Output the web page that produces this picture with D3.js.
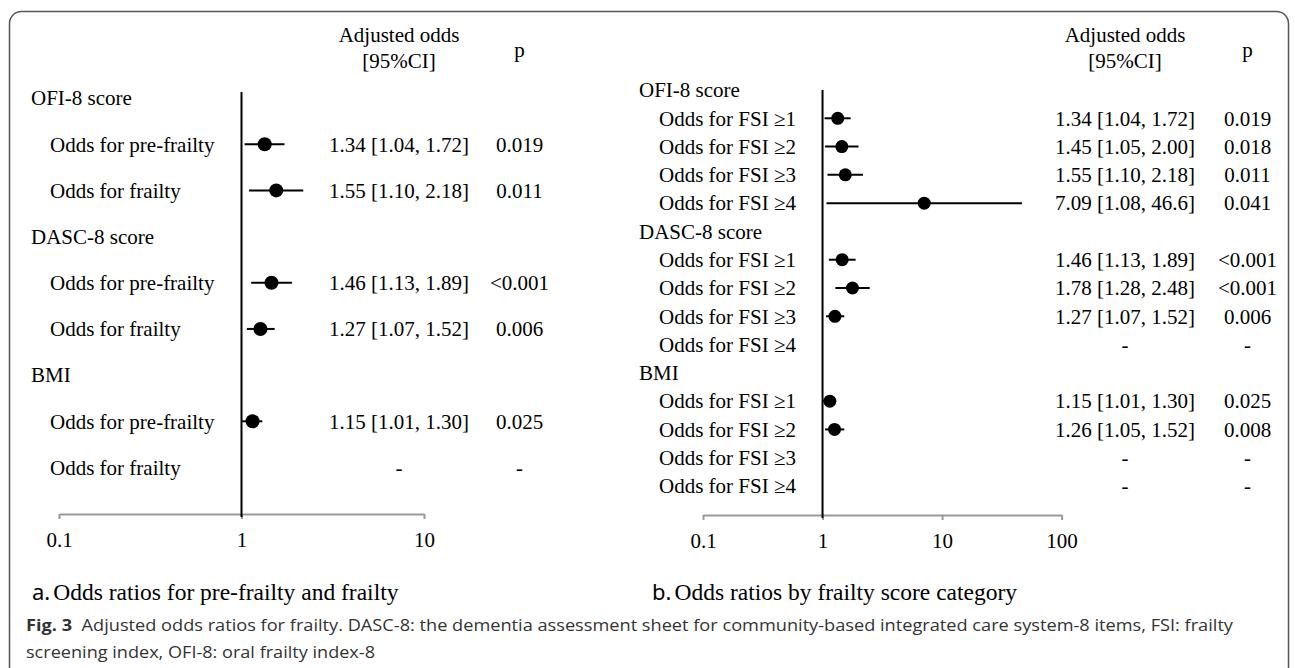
<!DOCTYPE html>
<html lang="en">
<head>
	<meta charset="UTF-8"/>
	<title>Adjusted odds ratios for frailty</title>
	<script src="https://d3js.org/d3.v7.min.js"></script>
	<style>
		body { margin: 0; background: #fff; }
	</style>
</head>
<body>
	<script>
	var w = 1295;
	var h = 668;

	// panel a: pre-frailty and frailty
	var groupsA = ["OFI-8 score", "DASC-8 score", "BMI"];
	var rowLabelsA = ["Odds for pre-frailty", "Odds for frailty"];
	var oddsA = [1.34, 1.55, 1.46, 1.27, 1.15, null];
	var lowA  = [1.04, 1.10, 1.13, 1.07, 1.01, null];
	var highA = [1.72, 2.18, 1.89, 1.52, 1.30, null];
	var pA    = ["0.019", "0.011", "<0.001", "0.006", "0.025", "-"];
	var ticksA = [0.1, 1, 10];

	// panel b: by frailty score category
	var groupsB = ["OFI-8 score", "DASC-8 score", "BMI"];
	var rowLabelsB = ["Odds for FSI \u22651", "Odds for FSI \u22652", "Odds for FSI \u22653", "Odds for FSI \u22654"];
	var oddsB = [1.34, 1.45, 1.55, 7.09, 1.46, 1.78, 1.27, null, 1.15, 1.26, null, null];
	var lowB  = [1.04, 1.05, 1.10, 1.08, 1.13, 1.28, 1.07, null, 1.01, 1.05, null, null];
	var highB = [1.72, 2.00, 2.18, 46.6, 1.89, 2.48, 1.52, null, 1.30, 1.52, null, null];
	var pB    = ["0.019", "0.018", "0.011", "0.041", "<0.001", "<0.001", "0.006", "-", "0.025", "0.008", "-", "-"];
	var ticksB = [0.1, 1, 10, 100];

	var serif = "'Liberation Serif', 'Times New Roman', serif";
	var fmt = d3.format(".3r");

	var svg = d3.select("body")
		.append("svg")
		.attr("width", w)
		.attr("height", h);

	// rounded frame, bottom runs off the picture
	svg.append("rect")
		.attr("x", 9.5)
		.attr("y", 11.5)
		.attr("width", 1279)
		.attr("height", 720)
		.attr("rx", 12)
		.attr("fill", "none")
		.attr("stroke", "#555")
		.attr("stroke-width", 1.5);

	function drawPanel(p) {
		var rows = [];
		p.groups.forEach(function (g, gi) {
			rows.push({ label: g, head: true });
			p.rowLabels.forEach(function (r, ri) {
				var i = gi * p.rowLabels.length + ri;
				rows.push({ label: r, head: false, odds: p.odds[i], low: p.low[i], high: p.high[i], pv: p.pv[i] });
			});
		});

		var x = d3.scaleLog()
			.domain([p.ticks[0], p.ticks[p.ticks.length - 1]])
			.range([p.x0, p.x1]);
		var y = d3.scalePoint()
			.domain(d3.range(rows.length))
			.range([p.y0, p.y1]);

		var g = svg.append("g")
			.attr("font-family", serif)
			.attr("font-size", "21px")
			.attr("fill", "#000");

		// column headers
		g.append("text").attr("x", p.numX).attr("y", 35).attr("dy", "0.35em")
			.attr("text-anchor", "middle").text("Adjusted odds");
		g.append("text").attr("x", p.numX).attr("y", 61).attr("dy", "0.35em")
			.attr("text-anchor", "middle").text("[95%CI]");
		g.append("text").attr("x", p.pX).attr("y", 50).attr("dy", "0.35em")
			.attr("text-anchor", "middle").text("p");

		// row labels
		g.selectAll("text.lab")
			.data(rows)
			.enter()
			.append("text")
			.attr("class", "lab")
			.attr("x", function (d) { return d.head ? p.groupX : p.rowX; })
			.attr("y", function (d, i) { return y(i); })
			.attr("dy", "0.35em")
			.text(function (d) { return d.label; });

		var items = rows.map(function (d, i) { d.i = i; return d; })
			.filter(function (d) { return !d.head; });

		// odds [CI] and p columns
		g.selectAll("text.num")
			.data(items)
			.enter()
			.append("text")
			.attr("class", "num")
			.attr("x", p.numX)
			.attr("y", function (d) { return y(d.i); })
			.attr("dy", "0.35em")
			.attr("text-anchor", "middle")
			.text(function (d) {
				return d.odds == null ? "-" : fmt(d.odds) + " [" + fmt(d.low) + ", " + fmt(d.high) + "]";
			});

		g.selectAll("text.pv")
			.data(items)
			.enter()
			.append("text")
			.attr("class", "pv")
			.attr("x", p.pX)
			.attr("y", function (d) { return y(d.i); })
			.attr("dy", "0.35em")
			.attr("text-anchor", "middle")
			.text(function (d) { return d.pv; });

		// x axis (log)
		var xAxis = d3.axisBottom(x)
			.tickValues(p.ticks)
			.tickFormat(function (d) { return String(d); })
			.tickSize(5)
			.tickSizeOuter(0);
		var ax = svg.append("g")
			.attr("transform", "translate(0," + p.axisY + ")")
			.call(xAxis);
		ax.select(".domain").attr("stroke", "#999").attr("stroke-width", 2);
		ax.selectAll(".tick line").attr("stroke", "#999").attr("stroke-width", 2);
		ax.selectAll(".tick text")
			.attr("font-family", serif)
			.attr("font-size", "21px")
			.attr("fill", "#000")
			.attr("y", 18);

		// reference line at 1
		svg.append("line")
			.attr("x1", x(1)).attr("x2", x(1))
			.attr("y1", p.lineTop).attr("y2", p.axisY + 3)
			.attr("stroke", "#000")
			.attr("stroke-width", 2);

		var pts = items.filter(function (d) { return d.odds != null; });

		svg.selectAll(null)
			.data(pts)
			.enter()
			.append("line")
			.attr("x1", function (d) { return x(d.low); })
			.attr("x2", function (d) { return x(d.high); })
			.attr("y1", function (d) { return y(d.i); })
			.attr("y2", function (d) { return y(d.i); })
			.attr("stroke", "#000")
			.attr("stroke-width", 2);

		svg.selectAll(null)
			.data(pts)
			.enter()
			.append("circle")
			.attr("cx", function (d) { return x(d.odds); })
			.attr("cy", function (d) { return y(d.i); })
			.attr("r", p.r)
			.attr("fill", "#000");

		// panel caption
		var cap = svg.append("text")
			.attr("x", p.capX)
			.attr("y", 600)
			.attr("font-family", serif)
			.attr("font-size", "23.5px")
			.attr("fill", "#000");
		cap.append("tspan")
			.attr("font-family", "'Noto Sans', sans-serif")
			.attr("font-size", "22px")
			.text(p.capLetter);
		cap.append("tspan").attr("dx", 3).text(p.capText);
	}

	drawPanel({
		groups: groupsA, rowLabels: rowLabelsA,
		odds: oddsA, low: lowA, high: highA, pv: pA, ticks: ticksA,
		x0: 59, x1: 424, y0: 98, y1: 467.5,
		groupX: 31, rowX: 50, numX: 399, pX: 519.5,
		axisY: 514, lineTop: 92, r: 7,
		capX: 32, capLetter: "a.", capText: "Odds ratios for pre-frailty and frailty"
	});

	drawPanel({
		groups: groupsB, rowLabels: rowLabelsB,
		odds: oddsB, low: lowB, high: highB, pv: pB, ticks: ticksB,
		x0: 703, x1: 1061.6, y0: 90, y1: 486,
		groupX: 639, rowX: 659, numX: 1125, pX: 1247.5,
		axisY: 515, lineTop: 90, r: 6.5,
		capX: 652, capLetter: "b.", capText: "Odds ratios by frailty score category"
	});

	// figure caption
	var fig = svg.append("text")
		.attr("x", 26)
		.attr("y", 631)
		.attr("font-family", "'Open Sans', sans-serif")
		.attr("font-size", "16.5px")
		.attr("fill", "#333")
		.attr("textLength", 1207)
		.attr("lengthAdjust", "spacingAndGlyphs");
	fig.append("tspan").attr("font-weight", "bold").text("Fig. 3");
	fig.append("tspan").text("\u00a0\u00a0Adjusted odds ratios for frailty. DASC-8: the dementia assessment sheet for community-based integrated care system-8 items, FSI: frailty");

	svg.append("text")
		.attr("x", 26)
		.attr("y", 658)
		.attr("font-family", "'Open Sans', sans-serif")
		.attr("font-size", "16.5px")
		.attr("fill", "#333")
		.attr("textLength", 349)
		.attr("lengthAdjust", "spacingAndGlyphs")
		.text("screening index, OFI-8: oral frailty index-8");
	</script>
</body>
</html>
